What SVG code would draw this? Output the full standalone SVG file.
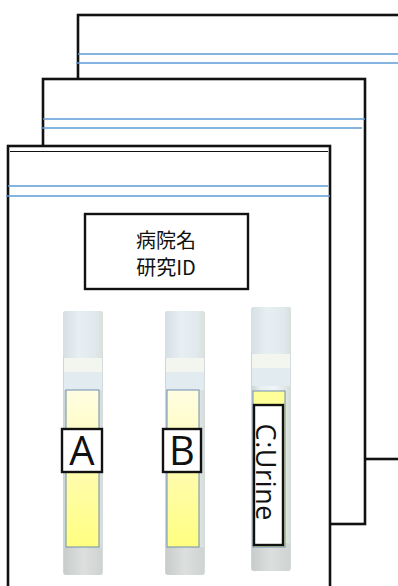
<svg xmlns="http://www.w3.org/2000/svg" width="398" height="586" viewBox="0 0 398 586">
  <style>
    .sheet { fill: #ffffff; stroke: #111111; stroke-width: 2.6; }
    .rule { stroke: #5b9bd5; stroke-width: 1.3; fill: none; }
    .seal { stroke: #111111; stroke-width: 1.2; }
    .idbox { fill: #ffffff; stroke: #111111; stroke-width: 2.4; }
    .idtext { font-family: "Noto Sans CJK JP", "Noto Sans", sans-serif; font-size: 20px; fill: #111111; text-anchor: middle; }
    .tag { fill: #ffffff; stroke: #111111; stroke-width: 2.4; }
    .tagtext { font-family: "Open Sans", "Noto Sans", sans-serif; fill: #111111; text-anchor: middle; }
    .label { stroke: #6d8fae; stroke-width: 1; }
  </style>
  <defs>
    <linearGradient id="glass" x1="0" y1="0" x2="1" y2="0">
      <stop offset="0" stop-color="#ccd3d5"/>
      <stop offset="0.25" stop-color="#eaf0f2"/>
      <stop offset="0.6" stop-color="#f1f5f6"/>
      <stop offset="1" stop-color="#d5dbdb"/>
    </linearGradient>
    <linearGradient id="cap" x1="0" y1="0" x2="1" y2="0">
      <stop offset="0" stop-color="#d6dfe5"/>
      <stop offset="0.4" stop-color="#e8eff3"/>
      <stop offset="0.8" stop-color="#e1e9ee"/>
      <stop offset="1" stop-color="#d9e0da"/>
    </linearGradient>
    <linearGradient id="base" x1="0" y1="0" x2="1" y2="0">
      <stop offset="0" stop-color="#c8cdcc"/>
      <stop offset="0.5" stop-color="#dcdfde"/>
      <stop offset="1" stop-color="#cfd3d2"/>
    </linearGradient>
    <linearGradient id="fill" x1="0" y1="0" x2="0" y2="1">
      <stop offset="0" stop-color="#fffde2"/>
      <stop offset="0.5" stop-color="#fffbb0"/>
      <stop offset="1" stop-color="#ffff80"/>
    </linearGradient>
    <!-- sample tube drawn at origin, 40 wide, 264 tall -->
    <symbol id="tube" overflow="visible">
      <rect x="0" y="0" width="40" height="264" rx="3" fill="url(#glass)"/>
      <rect x="0" y="0" width="40" height="47" rx="3" fill="url(#cap)"/>
      <rect x="1" y="47" width="38" height="14" fill="#f3f5ef"/>
      <rect x="1" y="61" width="38" height="18" fill="#e2ebf0"/>
      <rect x="1" y="236" width="38" height="28" rx="2" fill="url(#base)"/>
    </symbol>
  </defs>

  <!-- stacked specimen bags, back to front -->
  <g id="bag-back">
    <rect class="sheet" x="78" y="15" width="340" height="444"/>
    <line class="rule" x1="78" y1="54" x2="398" y2="54"/>
    <line class="rule" x1="76" y1="63" x2="398" y2="63"/>
  </g>
  <g id="bag-middle">
    <rect class="sheet" x="43" y="79" width="322" height="445"/>
    <line class="rule" x1="43" y1="119" x2="365" y2="119"/>
    <line class="rule" x1="41" y1="128" x2="362" y2="128"/>
  </g>
  <g id="bag-front">
    <rect class="sheet" x="8" y="146" width="322" height="460"/>
    <line class="seal" x1="10" y1="151.5" x2="328" y2="151.5"/>
    <line class="rule" x1="8" y1="186" x2="328" y2="186"/>
    <line class="rule" x1="6" y1="196" x2="330" y2="196"/>
  </g>

  <!-- hospital / study ID card -->
  <g id="id-card">
    <rect class="idbox" x="85" y="214" width="163" height="75"/>
    <text class="idtext" x="166" y="248">病院名</text>
    <text class="idtext" x="166" y="275">研究ID</text>
  </g>

  <!-- tube A -->
  <g id="tube-a">
    <use href="#tube" x="63" y="311"/>
    <rect class="label" x="66" y="390" width="33" height="157" fill="url(#fill)"/>
    <rect class="tag" x="62" y="429" width="40" height="43"/>
    <text class="tagtext" x="82" y="465" font-size="40">A</text>
  </g>

  <!-- tube B -->
  <g id="tube-b">
    <use href="#tube" x="165" y="311"/>
    <rect class="label" x="167" y="390" width="32" height="157" fill="url(#fill)"/>
    <rect class="tag" x="163" y="429" width="38" height="43"/>
    <text class="tagtext" x="182" y="465" font-size="40">B</text>
  </g>

  <!-- tube C (urine) -->
  <g id="tube-c">
    <use href="#tube" x="251" y="307"/>
    <rect class="label" x="253" y="391" width="32" height="156" fill="#ffff99"/>
    <rect class="tag" x="254" y="405" width="29" height="140" stroke-width="2"/>
    <text class="tagtext" transform="translate(255.5,472) rotate(90)" x="0" y="0" font-size="27" textLength="97" lengthAdjust="spacing">C:Urine</text>
  </g>
</svg>
